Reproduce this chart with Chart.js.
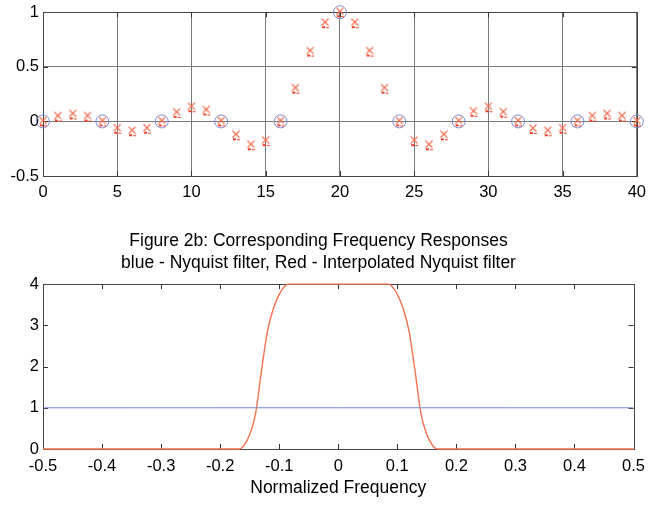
<!DOCTYPE html>
<html>
<head>
<meta charset="utf-8">
<script src="https://cdn.jsdelivr.net/npm/chart.js@4.4.1/dist/chart.umd.min.js"></script>
<style>
  html, body { margin: 0; padding: 0; background: #fff; }
  body { width: 654px; height: 508px; position: relative; overflow: hidden; }
  .box { position: absolute; left: 0; width: 654px; }
</style>
</head>
<body>
<div class="box" style="top:0;height:205px"><canvas id="impulseChart" width="654" height="205"></canvas></div>
<div class="box" style="top:220px;height:288px"><canvas id="freqChart" width="654" height="288"></canvas></div>
<script>
// --- Figure 2a: impulse responses (samples) ---
var sampleIdx = [0,1,2,3,4,5,6,7,8,9,10,11,12,13,14,15,16,17,18,19,20,
                 21,22,23,24,25,26,27,28,29,30,31,32,33,34,35,36,37,38,39,40];
var interpTaps = [0,0.045,0.064,0.045,0,-0.067,-0.09,-0.067,0,0.078,0.13,0.1,0,-0.127,-0.218,-0.18,0,0.3,0.64,0.9,1,
                  0.9,0.64,0.3,0,-0.18,-0.218,-0.127,0,0.088,0.13,0.08,0,-0.07,-0.09,-0.067,0,0.045,0.064,0.045,0];
var nyqIdx = [0,4,8,12,16,20,24,28,32,36,40];
var nyqTaps = [0,0,0,0,0,1,0,0,0,0,0];
var impXTicks = [0,5,10,15,20,25,30,35,40];
var impYTicks = [-0.5,0,0.5,1];

// --- Figure 2b: frequency responses ---
var freqPts = [-0.5,-0.168,-0.16,-0.15,-0.14,-0.13,-0.12,-0.11,-0.10,-0.09,-0.085,
               0.085,0.09,0.10,0.11,0.12,0.13,0.14,0.15,0.16,0.168,0.5];
var interpMag = [0,0,0.08,0.35,0.86,1.9,2.85,3.4,3.75,3.96,4,
                 4,3.96,3.75,3.4,2.85,1.9,0.86,0.35,0.08,0,0];
var nyqFreq = [-0.5,0.5];
var nyqMag = [1,1];
var freqXTicks = [-0.5,-0.4,-0.3,-0.2,-0.1,0,0.1,0.2,0.3,0.4,0.5];
var freqYTicks = [0,1,2,3,4];

var FONT = '"Liberation Sans", Arial, sans-serif';
Chart.defaults.font.family = FONT;
Chart.defaults.color = '#000';

function pairs(xs, ys) {
    return xs.map(function (x, i) { return { x: x, y: ys[i] }; });
}

// red "x" marker with the little dash underneath, as in the original plot
function makeCrossMarker() {
    var c = document.createElement('canvas');
    c.width = 12; c.height = 14;
    var g = c.getContext('2d');
    g.strokeStyle = '#f46a4c';
    g.lineWidth = 1.1;
    g.beginPath();
    g.moveTo(2.5, 2.5); g.lineTo(9.5, 9.5);
    g.moveTo(9.5, 2.5); g.lineTo(2.5, 9.5);
    g.stroke();
    g.fillStyle = '#f0442a';
    g.fillRect(3, 10, 3, 2);
    g.fillRect(7, 11, 3, 1);
    return c;
}
var crossMarker = makeCrossMarker();

// inside tick marks + frame, matlab style
var frameTicks = {
    id: 'frameTicks',
    beforeDatasetsDraw: function (chart) {
        var a = chart.chartArea, ctx = chart.ctx;
        var xs = chart.scales.x, ys = chart.scales.y;
        ctx.save();
        ctx.strokeStyle = '#333';
        ctx.lineWidth = 1;
        ctx.beginPath();
        xs.ticks.forEach(function (t) {
            var px = Math.round(xs.getPixelForValue(t.value)) + 0.5;
            ctx.moveTo(px, a.bottom); ctx.lineTo(px, a.bottom - 5);
            ctx.moveTo(px, a.top); ctx.lineTo(px, a.top + 5);
        });
        ys.ticks.forEach(function (t) {
            var py = Math.round(ys.getPixelForValue(t.value)) + 0.5;
            ctx.moveTo(a.left, py); ctx.lineTo(a.left + 5, py);
            ctx.moveTo(a.right, py); ctx.lineTo(a.right - 5, py);
        });
        ctx.stroke();
        ctx.strokeStyle = '#444';
        ctx.strokeRect(Math.round(a.left) + 0.5, Math.round(a.top) + 0.5,
                       Math.round(a.right - a.left), Math.round(a.bottom - a.top));
        ctx.restore();
    }
};

function fixedTicks(list) {
    return function (scale) {
        scale.ticks = list.map(function (v) { return { value: v }; });
    };
}
function plainLabel(v) { return String(Math.round(v * 10) / 10); }

new Chart(document.getElementById('impulseChart').getContext('2d'), {
    type: 'scatter',
    data: {
        datasets: [
            {
                label: 'Interpolated Nyquist filter',
                data: pairs(sampleIdx, interpTaps),
                pointStyle: crossMarker,
                pointRadius: 5,
                showLine: false,
                clip: false
            },
            {
                label: 'Nyquist filter',
                data: pairs(nyqIdx, nyqTaps),
                pointStyle: 'circle',
                pointRadius: 6.5,
                pointBorderColor: '#7f8bd2',
                pointBackgroundColor: 'rgba(0,0,0,0)',
                pointBorderWidth: 1,
                showLine: false,
                clip: false
            }
        ]
    },
    options: {
        responsive: false,
        animation: false,
        layout: { padding: { top: 11, right: 17, left: 0, bottom: 0 } },
        plugins: { legend: { display: false }, tooltip: { enabled: false } },
        scales: {
            x: {
                type: 'linear', min: 0, max: 40,
                afterBuildTicks: fixedTicks(impXTicks),
                afterFit: function (s) { s.height = 29; },
                grid: { color: '#7a7a7a', drawTicks: false },
                border: { display: false },
                ticks: { font: { size: 16.5, lineHeight: 1 }, padding: 8, maxRotation: 0, callback: plainLabel }
            },
            y: {
                type: 'linear', min: -0.5, max: 1,
                afterBuildTicks: fixedTicks(impYTicks),
                afterFit: function (s) { s.width = 43; },
                grid: { color: '#7a7a7a', drawTicks: false },
                border: { display: false },
                ticks: { font: { size: 16.5, lineHeight: 1 }, padding: 4, callback: plainLabel }
            }
        }
    },
    plugins: [frameTicks]
});

new Chart(document.getElementById('freqChart').getContext('2d'), {
    type: 'scatter',
    data: {
        datasets: [
            {
                label: 'Nyquist filter',
                data: pairs(nyqFreq, nyqMag),
                showLine: true,
                borderColor: '#7b86d0',
                borderWidth: 1,
                pointRadius: 0
            },
            {
                label: 'Interpolated Nyquist filter',
                data: pairs(freqPts, interpMag),
                showLine: true,
                borderColor: '#f4724f',
                borderWidth: 1.4,
                cubicInterpolationMode: 'monotone',
                pointRadius: 0,
                clip: false
            }
        ]
    },
    options: {
        responsive: false,
        animation: false,
        layout: { padding: { top: 0, right: 17, left: 0, bottom: 0 } },
        plugins: {
            legend: { display: false },
            tooltip: { enabled: false },
            title: {
                display: true,
                text: ['Figure 2b: Corresponding Frequency Responses',
                       'blue - Nyquist filter, Red - Interpolated Nyquist filter'],
                color: '#000',
                font: { size: 17.5, weight: 'normal', lineHeight: 1.26 },
                padding: { top: 10, bottom: 10 }
            }
        },
        scales: {
            x: {
                type: 'linear', min: -0.5, max: 0.5,
                afterBuildTicks: fixedTicks(freqXTicks),
                afterFit: function (s) { s.height = 59; },
                grid: { drawOnChartArea: false, drawTicks: false },
                border: { display: false },
                ticks: { font: { size: 16.5, lineHeight: 1 }, padding: 9, maxRotation: 0, callback: plainLabel },
                title: {
                    display: true, text: 'Normalized Frequency',
                    font: { size: 17.5 }, padding: { top: 0, bottom: 9 }
                }
            },
            y: {
                type: 'linear', min: 0, max: 4,
                afterBuildTicks: fixedTicks(freqYTicks),
                afterFit: function (s) { s.width = 43; },
                grid: { drawOnChartArea: false, drawTicks: false },
                border: { display: false },
                ticks: { font: { size: 16.5, lineHeight: 1 }, padding: 4, callback: plainLabel }
            }
        }
    },
    plugins: [frameTicks]
});
</script>
</body>
</html>
